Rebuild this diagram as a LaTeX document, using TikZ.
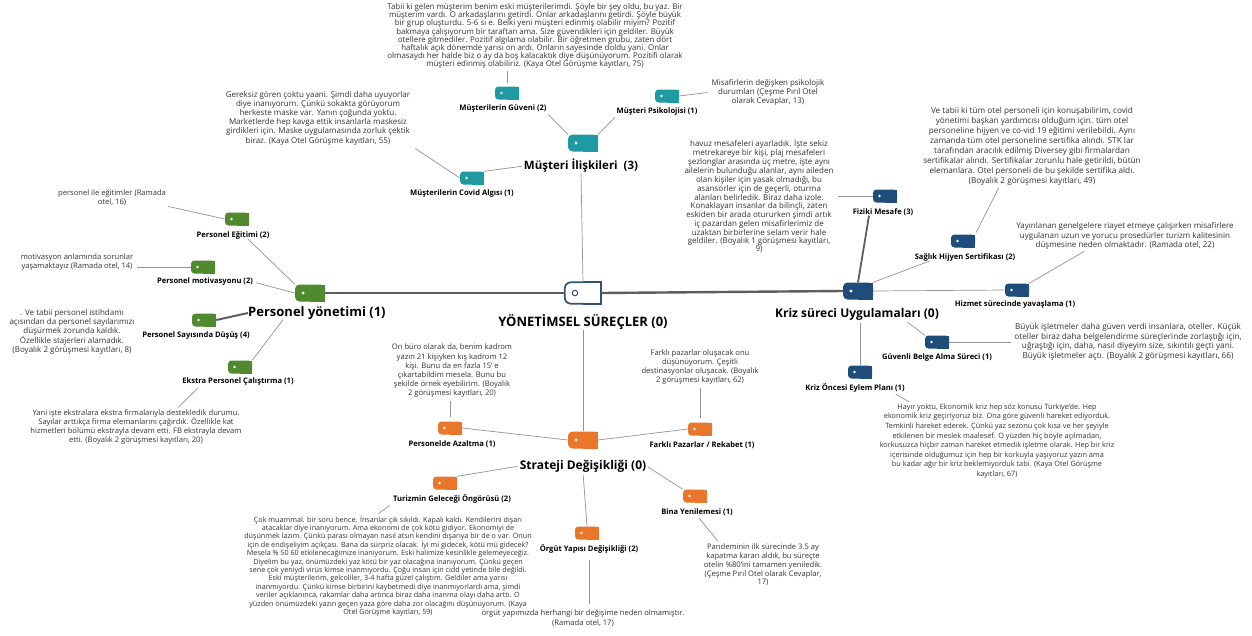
\documentclass[tikz,border=0pt]{standalone}
\usepackage{fontspec}
\setmainfont{Open Sans}
\definecolor{cgreen}{HTML}{4F8A2E}
\definecolor{cteal}{HTML}{1F9AA3}
\definecolor{corange}{HTML}{E8762B}
\definecolor{cnavy}{HTML}{1E4D7B}
\definecolor{ccen}{HTML}{2F5277}
\definecolor{cline}{HTML}{939393}
\definecolor{cthick}{HTML}{5E5E5E}
\tikzset{
  tagicon/.style={rectangle, minimum width=24pt, minimum height=13pt, inner sep=0pt,
    path picture={
      \fill[#1, rounded corners=3.5pt] (path picture bounding box.south west) rectangle (path picture bounding box.north east);
      \fill[#1] (path picture bounding box.south) rectangle (path picture bounding box.north east);
      \fill[white] ([xshift=6.5pt]path picture bounding box.west) circle (1.4pt);}},
  tagbig/.style={rectangle, minimum width=30pt, minimum height=17pt, inner sep=0pt,
    path picture={
      \fill[#1, rounded corners=4.5pt] (path picture bounding box.south west) rectangle (path picture bounding box.north east);
      \fill[#1] (path picture bounding box.south) rectangle (path picture bounding box.north east);
      \fill[white] ([xshift=8pt]path picture bounding box.west) circle (1.7pt);}},
  para/.style={align=center, inner sep=0pt, font=\fontsize{7.6}{8.6}\selectfont, text=black!80},
  lab/.style={inner sep=0pt, font=\fontsize{7.6}{9}\selectfont\bfseries},
  mainlab/.style={inner sep=0pt, font=\fontsize{12}{14}\selectfont\bfseries},
  conn/.style={draw=cline, line width=0.7pt},
  thickconn/.style={draw=cthick, line width=2.4pt},
}
\begin{document}
\begin{tikzpicture}[x=1pt,y=-1pt]
\useasboundingbox[fill=white] (0,0) rectangle (1252,635);

% ---- central ----
\node[minimum width=36pt, minimum height=21pt, inner sep=0pt] (Cen) at (583,293) {};
\draw[ccen, line width=1.7pt, rounded corners=6pt] (Cen.north) -- (Cen.north west) -- (Cen.south west) -- (Cen.south);
\draw[ccen, line width=1.7pt] (Cen.north) -- (Cen.north east) -- (Cen.south east) -- (Cen.south);
\node[draw=ccen, line width=1pt, circle, minimum size=5.5pt, inner sep=0pt] (Cdot) at ([xshift=-8pt]Cen.center) {};
\node[inner sep=0pt, font=\fontsize{13}{15}\selectfont\bfseries] (Cenl) at (583,322) {YÖNETİMSEL SÜREÇLER (0)};

% ---- main categories ----
\node[tagbig=cgreen] (Per) at (310,293) {};
\node[inner sep=0pt, font=\fontsize{13}{15}\selectfont\bfseries, anchor=west] (Perl) at (248,313) {Personel yönetimi (1)};
\node[tagbig=cnavy] (Kri) at (858,291) {};
\node[mainlab] (Kril) at (857,314) {Kriz süreci Uygulamaları (0)};
\node[tagbig=cteal] (Mus) at (583,143) {};
\node[mainlab, font=\fontsize{11.5}{14}\selectfont\bfseries] (Musl) at (581,166) {Müşteri İlişkileri~~(3)};
\node[tagbig=corange] (Str) at (583,440) {};
\node[mainlab] (Strl) at (583,466) {Strateji Değişikliği (0)};

% ---- Müşteri children ----
\node[tagicon=cteal] (MG) at (507,93) {};
\node[lab] (MGl) at (503,109) {Müşterilerin Güveni (2)};
\node[tagicon=cteal] (MP) at (667,96) {};
\node[lab] (MPl) at (657,112) {Müşteri Psikolojisi (1)};
\node[tagicon=cteal] (MC) at (472,178) {};
\node[lab] (MCl) at (462,194) {Müşterilerin Covid Algısı (1)};

\node[para, font=\fontsize{7.9}{8.1}\selectfont] (ttext) at (535,36) {Tabii ki gelen müşterim benim eski müşterilerimdi. Şöyle bir şey oldu, bu yaz. Bir\\müşterim vardı. O arkadaşlarını getirdi. Onlar arkadaşlarını getirdi. Şöyle büyük\\bir grup oluşturdu. 5-6 sı e. Belki yeni müşteri edinmiş olabilir miyim? Pozitif\\bakmaya çalışıyorum bir taraftan ama. Size güvendikleri için geldiler. Büyük\\otellere gitmediler. Pozitif algılama olabilir. Bir öğretmen grubu, zaten dört\\haftalık açık dönemde yarısı on ardı. Onların sayesinde doldu yani. Onlar\\olmasaydı her halde biz o ay da boş kalacaktık diye düşünüyorum. Pozitifi olarak\\müşteri edinmiş olabiliriz. (Kaya Otel Görüşme kayıtları, 75)};
\node[para, font=\fontsize{7.9}{9}\selectfont] (mptext) at (768,92) {Misafirlerin değişken psikolojik\\durumları (Çeşme Pırıl Otel\\olarak Cevaplar, 13)};
\node[para, font=\fontsize{8}{9.2}\selectfont] (gtext) at (318,118) {Gereksiz gören çoktu yaani. Şimdi daha uyuyorlar\\diye inanıyorum. Çünkü sokakta görüyorum\\herkeste maske var. Yanın çoğunda yoktu.\\Marketlerde hep kavga ettik insanlarla maskesiz\\girdikleri için. Maske uygulamasında zorluk çektik\\biraz. (Kaya Otel Görüşme kayıtları, 55)};

% ---- Personel children ----
\node[tagicon=cgreen] (PE) at (237,219) {};
\node[lab] (PEl) at (233,235) {Personel Eğitimi (2)};
\node[tagicon=cgreen] (PM) at (203,267) {};
\node[lab] (PMl) at (205,282) {Personel motivasyonu (2)};
\node[tagicon=cgreen] (PS) at (204,320) {};
\node[lab] (PSl) at (196,336) {Personel Sayısında Düşüş (4)};
\node[tagicon=cgreen] (PX) at (240,367) {};
\node[lab] (PXl) at (238,382) {Ekstra Personel Çalıştırma (1)};

\node[para] (petext) at (112,198) {personel ile eğitimler (Ramada\\otel, 16)};
\node[para] (pmtext) at (77,262) {motivasyon anlamında sorunlar\\yaşamaktayız (Ramada otel, 14)};
\node[para, font=\fontsize{8}{8.9}\selectfont] (pstext) at (72,332) {. Ve tabii personel istihdamı\\açısından da personel sayılarımızı\\düşürmek zorunda kaldık.\\Özellikle stajerleri alamadık.\\(Boyalık 2 görüşmesi kayıtları, 8)};
\node[para, font=\fontsize{7.6}{9}\selectfont] (pxtext) at (136,427) {Yani işte ekstralara ekstra firmalarıyla destekledik durumu.\\Sayılar arttıkça firma elemanlarını çağırdık. Özellikle kat\\hizmetleri bölümü ekstrayla devam etti. FB ekstrayla devam\\etti. (Boyalık 2 görüşmesi kayıtları, 20)};

% ---- Strateji children ----
\node[tagicon=corange] (PA) at (450,428) {};
\node[lab] (PAl) at (452,444) {Personelde Azaltma (1)};
\node[tagicon=corange] (FP) at (700,429) {};
\node[lab] (FPl) at (702,445) {Farklı Pazarlar / Rekabet (1)};
\node[tagicon=corange] (TG) at (445,483) {};
\node[lab] (TGl) at (452,499) {Turizmin Geleceği Öngörüsü (2)};
\node[tagicon=corange] (OY) at (587,533) {};
\node[lab] (OYl) at (589,549) {Örgüt Yapısı Değişikliği (2)};
\node[tagicon=corange] (BY) at (695,496) {};
\node[lab] (BYl) at (697,512) {Bina Yenilemesi (1)};

\node[para, font=\fontsize{7.6}{9.2}\selectfont] (patext) at (452,371) {On büro olarak da, benim kadrom\\yazın 21 kişiyken kış kadrom 12\\kişi. Bunu da en fazla 15' e\\çıkartabildim mesela. Bunu bu\\şekilde örnek eyebilirim. (Boyalık\\2 görüşmesi kayıtları, 20)};
\node[para, font=\fontsize{7.6}{9}\selectfont] (fptext) at (700,367) {Farklı pazarlar oluşacak onu\\düşünüyorum. Çeşitli\\destinasyonlar oluşacak. (Boyalık\\2 görüşmesi kayıtları, 62)};
\node[para, font=\fontsize{7.2}{8.4}\selectfont] (tgtext) at (388,566) {Çok muammal. bir soru bence. İnsanlar çık sıkıldı. Kapalı kaldı. Kendilerini dışarı\\atacaklar diye inanıyorum. Ama ekonomi de çok kötü gidiyor. Ekonomiyi de\\düşünmek lazım. Çünkü parası olmayan nasıl atsın kendini dışarıya bir de o var. Onun\\için de endişeliyim açıkçası. Bana da sürpriz olacak. İyi mi gidecek, kötü mü gidecek?\\Mesela \% 50 60 etkilenecağimize inanıyorum. Eski halimize kesinlikle gelemeyeceğiz.\\Diyelim bu yaz, önümüzdeki yaz kötü bir yaz olacağına inanıyorum. Çünkü geçen\\sene çok yeniydi virüs kimse inanmıyordu. Çoğu insan için cidd yetinde bile değildi.\\Eski müşterilerim, gelcoliler, 3-4 hafta güzel çalıştım. Geldiler ama yarısı\\inanmıyordu. Çünkü kimse birbirini kaybetmedi diye inanmıyorlardı ama, şimdi\\veriler açıklanınca, rakamlar daha artınca biraz daha inanma olayı daha arttı. O\\yüzden önümüzdeki yazın geçen yaza göre daha zor olacağını düşünüyorum. (Kaya\\Otel Görüşme kayıtları, 59)};
\node[para, font=\fontsize{7.6}{9.5}\selectfont] (oytext) at (583,618) {örgüt yapımızda herhangi bir değişime neden olmamıştır.\\(Ramada otel, 17)};
\node[para, font=\fontsize{7.6}{8.8}\selectfont] (bytext) at (763,565) {Pandeminin ilk sürecinde 3.5 ay\\kapatma kararı aldık, bu süreçte\\otelin \%80'ini tamamen yeniledik.\\(Çeşme Pırıl Otel olarak Cevaplar,\\17)};

% ---- Kriz children ----
\node[tagicon=cnavy] (FM) at (885,196) {};
\node[lab] (FMl) at (883,212) {Fiziki Mesafe (3)};
\node[tagicon=cnavy] (SH) at (963,241) {};
\node[lab] (SHl) at (965,257) {Sağlık Hijyen Sertifikası (2)};
\node[tagicon=cnavy] (HS) at (1017,290) {};
\node[lab] (HSl) at (1015,305) {Hizmet sürecinde yavaşlama (1)};
\node[tagicon=cnavy] (GB) at (937,342) {};
\node[lab] (GBl) at (937,358) {Güvenli Belge Alma Süreci (1)};
\node[tagicon=cnavy] (KO) at (860,372) {};
\node[lab] (KOl) at (855,388) {Kriz Öncesi Eylem Planı (1)};

\node[para, font=\fontsize{8}{7.9}\selectfont] (fmtext) at (759,196) {havuz mesafeleri ayarladık. İşte sekiz\\metrekareye bir kişi, plaj mesafeleri\\şezlonglar arasında üç metre, işte aynı\\ailelerin bulunduğu alanlar, aynı aileden\\olan kişiler için yasak olmadığı, bu\\asansörler için de geçerli, oturma\\alanları belirledik. Biraz daha izole.\\Konaklayan insanlar da bilinçli, zaten\\eskiden bir arada otururken şimdi artık\\iç pazardan gelen misafirlerimiz de\\uzaktan birbirlerine selam verir hale\\geldiler. (Boyalık 1 görüşmesi kayıtları,\\9)};
\node[para, font=\fontsize{8.2}{10}\selectfont] (shtext) at (1032,146) {Ve tabii ki tüm otel personeli için konuşabilirim, covid\\yönetimi başkan yardımcısı olduğum için. tüm otel\\personeline hijyen ve co-vid 19 eğitimi verilebildi. Aynı\\zamanda tüm otel personeline sertifika alındı. STK lar\\tarafından aracılık edilmiş Diversey gibi firmalardan\\sertifikalar alındı. Sertifikalar zorunlu hale getirildi, bütün\\elemanlara. Otel personeli de bu şekilde sertifika aldı.\\(Boyalık 2 görüşmesi kayıtları, 49)};
\node[para, font=\fontsize{8}{9.5}\selectfont] (hstext) at (1125,236) {Yayınlanan genelgelere riayet etmeye çalışırken misafirlere\\uygulanan uzun ve yorucu prosedürler turizm kalitesinin\\düşmesine neden olmaktadır. (Ramada otel, 22)};
\node[para, font=\fontsize{8.2}{9.6}\selectfont] (gbtext) at (1128,342) {Büyük işletmeler daha güven verdi insanlara, oteller. Küçük\\oteller biraz daha belgelendirme süreçlerinde zorlaştığı için,\\uğraştığı için, daha, nasıl diyeyim size, sıkıntılı geçti yani.\\Büyük işletmeler açtı. (Boyalık 2 görüşmesi kayıtları, 66)};
\node[para, font=\fontsize{7.3}{9.6}\selectfont] (kotext) at (997,441) {Hayır yoktu, Ekonomik kriz hep söz konusu Türkiye'de. Hep\\ekonomik kriz geçiriyoruz biz. Ona göre güvenli hareket ediyorduk.\\Temkinli hareket ederek. Çünkü yaz sezonu çok kısa ve her şeyiyle\\etkilenen bir meslek maalesef. O yüzden hiç böyle açılmadan,\\korkusuzca hiçbir zaman hareket etmedik işletme olarak. Hep bir kriz\\içerisinde olduğumuz için hep bir korkuyla yaşıyoruz yazın ama\\bu kadar ağır bir kriz beklemiyorduk tabi. (Kaya Otel Görüşme\\kayıtları, 67)};

% ---- connectors ----
\draw[thickconn] (Per.east) -- (Cen.west);
\draw[thickconn] (Cen.east) -- (Kri.west);
\draw[conn] (Musl.south) -- (Cen.north);
\draw[conn] (Cenl.south) -- (Str.north);

\draw[conn, shorten <=2pt] (MGl.south east) -- (Mus.north west);
\draw[conn, shorten <=2pt] (MPl.south west) -- (Mus.north east);
\draw[conn, shorten >=2pt] (MC.north east) -- (Musl.west);
\draw[conn, shorten <=3pt, shorten >=2pt] (MG.north) -- (MG.north |- ttext.south);
\draw[conn, shorten >=4pt] (MP.east) -- (mptext.west);
\draw[conn, shorten <=6pt] (gtext.south east) -- (MC.west);

\draw[conn, shorten <=2pt] (petext.south east) -- (PE.west);
\draw[conn] ([xshift=15pt]PEl.south) -- (Per.north west);
\draw[conn, shorten >=4pt] (PM.west) -- (PM.west -| pmtext.east);
\draw[conn, shorten <=3pt] (PMl.east) -- (Per.west);
\draw[thickconn, line width=2pt] (PS.east) -- (Perl.west);
\draw[conn] ([xshift=35pt]Perl.south west) -- (PX.north east);
\draw[conn, shorten <=3pt, shorten >=3pt] ([xshift=-38pt]PXl.south) -- ([xshift=40pt]pxtext.north);

\draw[conn, shorten <=4pt, shorten >=3pt] (PA.north) -- (PA.north |- patext.south);
\draw[conn] (PA.east) -- (Str.west);
\draw[conn, shorten <=4pt, shorten >=3pt] (FP.north) -- (FP.north |- fptext.south);
\draw[conn] (FP.west) -- (Str.east);
\draw[conn, shorten <=2pt] (Strl.west) -- (TG.north east);
\draw[conn, shorten <=2pt] (Strl.east) -- (BY.north west);
\draw[conn, shorten <=3pt] (Strl.south) -- (OY.north);
\draw[conn, shorten <=6pt, shorten >=6pt] (OYl.south) -- (OYl.south |- oytext.north);
\draw[conn, shorten <=3pt, shorten >=3pt] ([xshift=-60pt]TGl.south) -- ([xshift=-12pt]tgtext.north);
\draw[conn, shorten <=3pt, shorten >=3pt] (BYl.south) -- ([xshift=-43pt]bytext.north);

\draw[thickconn, line width=1.8pt] ([xshift=-14pt]FMl.south) -- (Kri.north);
\draw[conn, shorten <=4pt] (fmtext.east) -- (FM.west);
\draw[conn] ([xshift=15pt]SHl.south west) -- (Kri.north east);
\draw[conn, shorten <=3pt, shorten >=2pt] ([xshift=-32pt]shtext.south) -- (SH.north east);
\draw[conn] (Kri.east) -- (HS.west);
\draw[conn, shorten <=3pt] ([xshift=-38pt]hstext.south) -- (HS.north east);
\draw[conn, shorten <=3pt] ([xshift=48pt]Kril.south) -- (GB.north west);
\draw[conn, shorten >=3pt] (GB.east) -- (gbtext.west);
\draw[conn, shorten >=3pt] (KO.north) -- (KO.north |- Kril.south);
\draw[conn, shorten <=3pt, shorten >=3pt] ([xshift=38pt]KOl.south) -- ([xshift=-85pt]kotext.north);
\end{tikzpicture}
\end{document}
